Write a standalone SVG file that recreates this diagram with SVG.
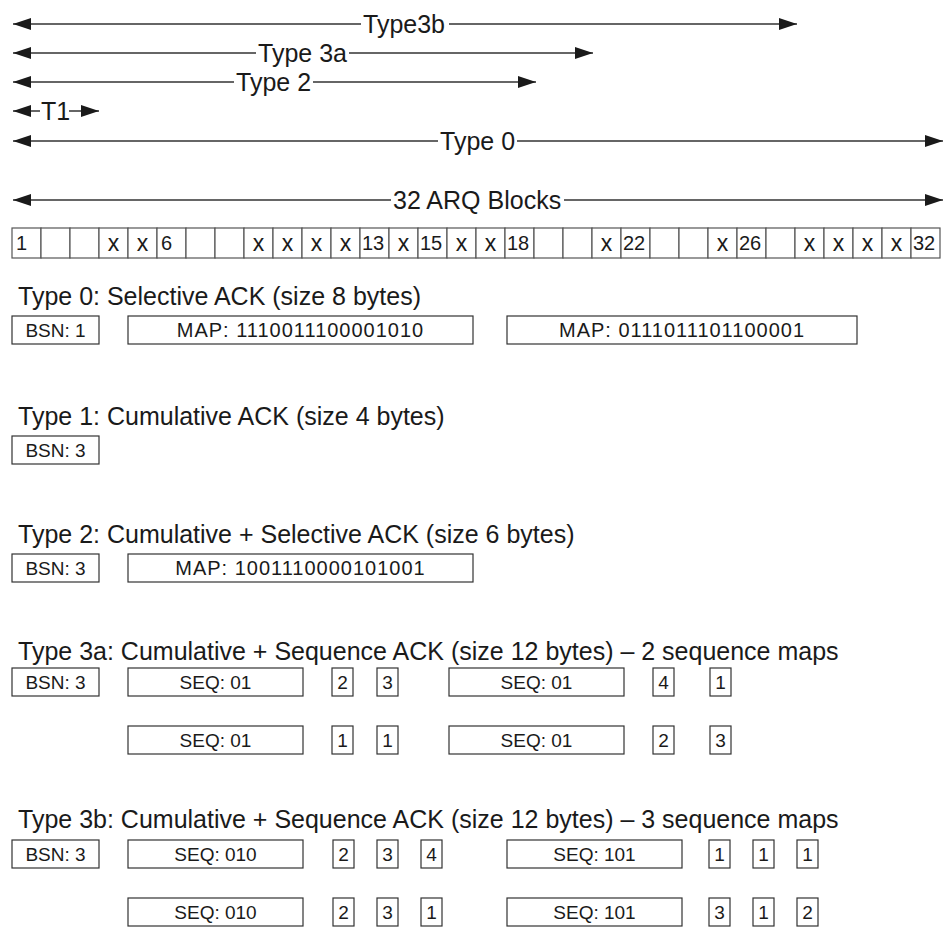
<svg xmlns="http://www.w3.org/2000/svg" width="945" height="928" viewBox="0 0 945 928">
<defs>
<marker id="ah" viewBox="0 0 18 12" refX="18" refY="6" markerWidth="18" markerHeight="12" markerUnits="userSpaceOnUse" orient="auto"><path d="M0,0 L18,6 L0,12 z" fill="#1a1a1a"/></marker>
</defs>
<style>
text{font-family:"Liberation Sans",Arial,sans-serif;fill:#1a1a1a}
.lbl{font-size:25px}
.hd{font-size:25px}
.bx{fill:#fff;stroke:#333;stroke-width:1.2}
.bt{font-size:19px;text-anchor:middle}
.mt{font-size:20px;text-anchor:middle;letter-spacing:1px}
.cell{fill:#fff;stroke:#555;stroke-width:1.2}
.ct{font-size:20px}
.cx{font-size:23px;text-anchor:middle}
.ln{stroke:#333;stroke-width:1.5;fill:none;marker-end:url(#ah)}
</style>
<rect width="945" height="928" fill="#fff"/>

<g id="connectors">
<path class="ln" d="M361,24 H13"/><path class="ln" d="M449,24 H797"/>
<path class="ln" d="M256,53 H13"/><path class="ln" d="M349,53 H593"/>
<path class="ln" d="M234,82 H13"/><path class="ln" d="M313,82 H536"/>
<path class="ln" d="M40,111 H13"/><path class="ln" d="M69,111 H99"/>
<path class="ln" d="M438,141 H13"/><path class="ln" d="M517,141 H943"/>
<path class="ln" d="M391,200 H13"/><path class="ln" d="M564,200 H943"/>
</g>

<g id="span-labels">
<text class="lbl" x="363" y="33">Type3b</text>
<text class="lbl" x="258" y="62">Type 3a</text>
<text class="lbl" x="236" y="91">Type 2</text>
<text class="lbl" x="41" y="120">T1</text>
<text class="lbl" x="440" y="150">Type 0</text>
<text class="lbl" x="393" y="209">32 ARQ Blocks</text>
</g>

<g id="arq-blocks">
<rect class="cell" x="12" y="228" width="29" height="30"/><text class="ct" x="16" y="250">1</text>
<rect class="cell" x="41" y="228" width="29" height="30"/>
<rect class="cell" x="70" y="228" width="29" height="30"/>
<rect class="cell" x="99" y="228" width="29" height="30"/><text class="cx" x="113.5" y="251">x</text>
<rect class="cell" x="128" y="228" width="29" height="30"/><text class="cx" x="142.5" y="251">x</text>
<rect class="cell" x="157" y="228" width="29" height="30"/><text class="ct" x="161" y="250">6</text>
<rect class="cell" x="186" y="228" width="29" height="30"/>
<rect class="cell" x="215" y="228" width="29" height="30"/>
<rect class="cell" x="244" y="228" width="29" height="30"/><text class="cx" x="258.5" y="251">x</text>
<rect class="cell" x="273" y="228" width="29" height="30"/><text class="cx" x="287.5" y="251">x</text>
<rect class="cell" x="302" y="228" width="29" height="30"/><text class="cx" x="316.5" y="251">x</text>
<rect class="cell" x="331" y="228" width="29" height="30"/><text class="cx" x="345.5" y="251">x</text>
<rect class="cell" x="360" y="228" width="29" height="30"/><text class="ct" x="362" y="250">13</text>
<rect class="cell" x="389" y="228" width="29" height="30"/><text class="cx" x="403.5" y="251">x</text>
<rect class="cell" x="418" y="228" width="29" height="30"/><text class="ct" x="420" y="250">15</text>
<rect class="cell" x="447" y="228" width="29" height="30"/><text class="cx" x="461.5" y="251">x</text>
<rect class="cell" x="476" y="228" width="29" height="30"/><text class="cx" x="490.5" y="251">x</text>
<rect class="cell" x="505" y="228" width="29" height="30"/><text class="ct" x="507" y="250">18</text>
<rect class="cell" x="534" y="228" width="29" height="30"/>
<rect class="cell" x="563" y="228" width="29" height="30"/>
<rect class="cell" x="592" y="228" width="29" height="30"/><text class="cx" x="606.5" y="251">x</text>
<rect class="cell" x="621" y="228" width="29" height="30"/><text class="ct" x="623" y="250">22</text>
<rect class="cell" x="650" y="228" width="29" height="30"/>
<rect class="cell" x="679" y="228" width="29" height="30"/>
<rect class="cell" x="708" y="228" width="29" height="30"/><text class="cx" x="722.5" y="251">x</text>
<rect class="cell" x="737" y="228" width="29" height="30"/><text class="ct" x="739" y="250">26</text>
<rect class="cell" x="766" y="228" width="29" height="30"/>
<rect class="cell" x="795" y="228" width="29" height="30"/><text class="cx" x="809.5" y="251">x</text>
<rect class="cell" x="824" y="228" width="29" height="30"/><text class="cx" x="838.5" y="251">x</text>
<rect class="cell" x="853" y="228" width="29" height="30"/><text class="cx" x="867.5" y="251">x</text>
<rect class="cell" x="882" y="228" width="29" height="30"/><text class="cx" x="896.5" y="251">x</text>
<rect class="cell" x="911" y="228" width="29" height="30"/><text class="ct" x="913" y="250">32</text>
</g>

<g id="headings">
<text class="hd" x="18" y="305">Type 0: Selective ACK (size 8 bytes)</text>
<text class="hd" x="18" y="425">Type 1: Cumulative ACK (size 4 bytes)</text>
<text class="hd" x="18" y="543">Type 2: Cumulative + Selective ACK (size 6 bytes)</text>
<text class="hd" x="18" y="660">Type 3a: Cumulative + Sequence ACK (size 12 bytes) – 2 sequence maps</text>
<text class="hd" x="18" y="828">Type 3b: Cumulative + Sequence ACK (size 12 bytes) – 3 sequence maps</text>
</g>

<g id="t0-bsn"><rect class="bx" x="12" y="316" width="87" height="28"/><text class="bt" x="55.5" y="337">BSN: 1</text></g>
<g id="t0-map1"><rect class="bx" x="128" y="316" width="345" height="28"/><text class="mt" x="300.5" y="337">MAP: 1110011100001010</text></g>
<g id="t0-map2"><rect class="bx" x="507" y="316" width="350" height="28"/><text class="mt" x="682" y="337">MAP: 0111011101100001</text></g>

<g id="t1-bsn"><rect class="bx" x="12" y="436" width="87" height="28"/><text class="bt" x="55.5" y="457">BSN: 3</text></g>

<g id="t2-bsn"><rect class="bx" x="12" y="554" width="87" height="28"/><text class="bt" x="55.5" y="575">BSN: 3</text></g>
<g id="t2-map"><rect class="bx" x="128" y="554" width="345" height="28"/><text class="mt" x="300.5" y="575">MAP: 1001110000101001</text></g>

<g id="t3a-bsn"><rect class="bx" x="12" y="668" width="87" height="28"/><text class="bt" x="55.5" y="689">BSN: 3</text></g>
<g id="t3a-seq1"><rect class="bx" x="128" y="668" width="175" height="28"/><text class="bt" x="215.5" y="689">SEQ: 01</text></g>
<g id="t3a-s1a"><rect class="bx" x="332" y="668" width="21" height="28"/><text class="bt" x="342.5" y="689">2</text></g>
<g id="t3a-s1b"><rect class="bx" x="377" y="668" width="21" height="28"/><text class="bt" x="387.5" y="689">3</text></g>
<g id="t3a-seq2"><rect class="bx" x="449" y="668" width="175" height="28"/><text class="bt" x="536.5" y="689">SEQ: 01</text></g>
<g id="t3a-s2a"><rect class="bx" x="653" y="668" width="21" height="28"/><text class="bt" x="663.5" y="689">4</text></g>
<g id="t3a-s2b"><rect class="bx" x="710" y="668" width="21" height="28"/><text class="bt" x="720.5" y="689">1</text></g>

<g id="t3a-seq3"><rect class="bx" x="128" y="726" width="175" height="28"/><text class="bt" x="215.5" y="747">SEQ: 01</text></g>
<g id="t3a-s3a"><rect class="bx" x="332" y="726" width="21" height="28"/><text class="bt" x="342.5" y="747">1</text></g>
<g id="t3a-s3b"><rect class="bx" x="377" y="726" width="21" height="28"/><text class="bt" x="387.5" y="747">1</text></g>
<g id="t3a-seq4"><rect class="bx" x="449" y="726" width="175" height="28"/><text class="bt" x="536.5" y="747">SEQ: 01</text></g>
<g id="t3a-s4a"><rect class="bx" x="653" y="726" width="21" height="28"/><text class="bt" x="663.5" y="747">2</text></g>
<g id="t3a-s4b"><rect class="bx" x="710" y="726" width="21" height="28"/><text class="bt" x="720.5" y="747">3</text></g>

<g id="t3b-bsn"><rect class="bx" x="12" y="840" width="87" height="28"/><text class="bt" x="55.5" y="861">BSN: 3</text></g>
<g id="t3b-seq1"><rect class="bx" x="128" y="840" width="175" height="28"/><text class="bt" x="215.5" y="861">SEQ: 010</text></g>
<g id="t3b-s1a"><rect class="bx" x="333" y="840" width="21" height="28"/><text class="bt" x="343.5" y="861">2</text></g>
<g id="t3b-s1b"><rect class="bx" x="377" y="840" width="21" height="28"/><text class="bt" x="387.5" y="861">3</text></g>
<g id="t3b-s1c"><rect class="bx" x="421" y="840" width="21" height="28"/><text class="bt" x="431.5" y="861">4</text></g>
<g id="t3b-seq2"><rect class="bx" x="507" y="840" width="175" height="28"/><text class="bt" x="594.5" y="861">SEQ: 101</text></g>
<g id="t3b-s2a"><rect class="bx" x="709" y="840" width="21" height="28"/><text class="bt" x="719.5" y="861">1</text></g>
<g id="t3b-s2b"><rect class="bx" x="753" y="840" width="21" height="28"/><text class="bt" x="763.5" y="861">1</text></g>
<g id="t3b-s2c"><rect class="bx" x="797" y="840" width="21" height="28"/><text class="bt" x="807.5" y="861">1</text></g>

<g id="t3b-seq3"><rect class="bx" x="128" y="898" width="175" height="28"/><text class="bt" x="215.5" y="919">SEQ: 010</text></g>
<g id="t3b-s3a"><rect class="bx" x="333" y="898" width="21" height="28"/><text class="bt" x="343.5" y="919">2</text></g>
<g id="t3b-s3b"><rect class="bx" x="377" y="898" width="21" height="28"/><text class="bt" x="387.5" y="919">3</text></g>
<g id="t3b-s3c"><rect class="bx" x="421" y="898" width="21" height="28"/><text class="bt" x="431.5" y="919">1</text></g>
<g id="t3b-seq4"><rect class="bx" x="507" y="898" width="175" height="28"/><text class="bt" x="594.5" y="919">SEQ: 101</text></g>
<g id="t3b-s4a"><rect class="bx" x="709" y="898" width="21" height="28"/><text class="bt" x="719.5" y="919">3</text></g>
<g id="t3b-s4b"><rect class="bx" x="753" y="898" width="21" height="28"/><text class="bt" x="763.5" y="919">1</text></g>
<g id="t3b-s4c"><rect class="bx" x="797" y="898" width="21" height="28"/><text class="bt" x="807.5" y="919">2</text></g>
</svg>
